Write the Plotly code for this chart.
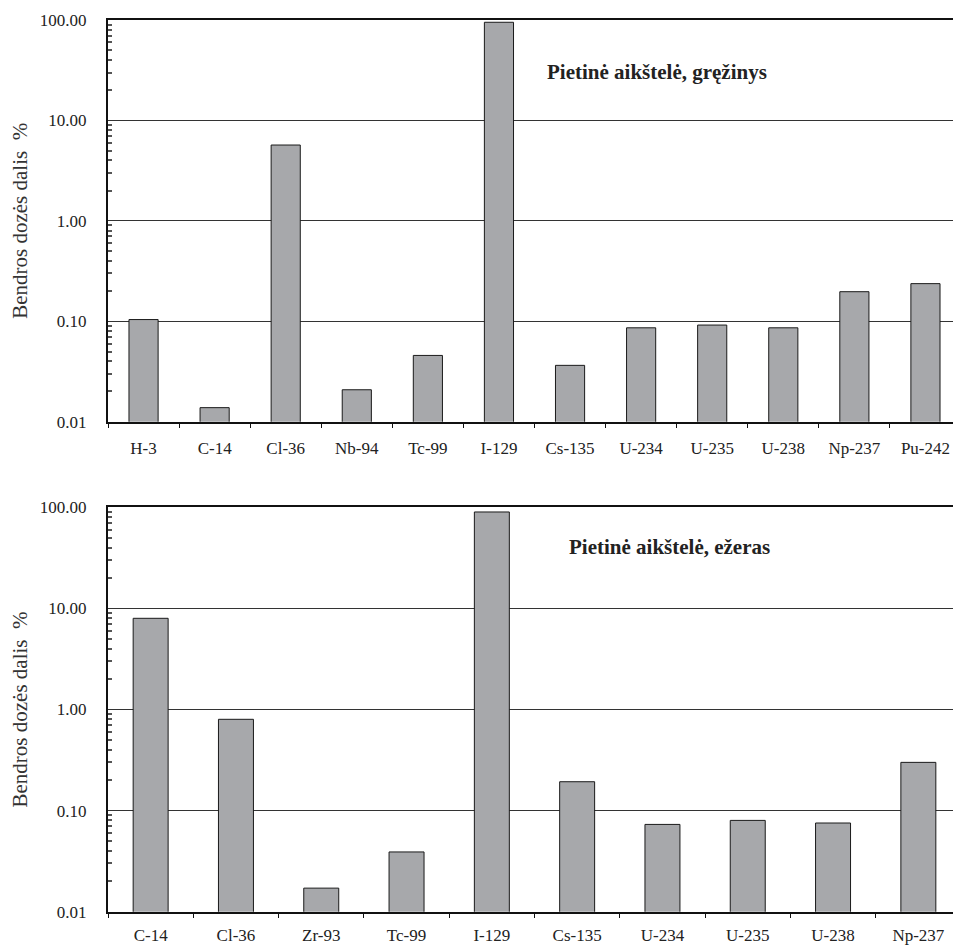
import plotly.graph_objects as go
from plotly.subplots import make_subplots

top_labels = ["H-3", "C-14", "Cl-36", "Nb-94", "Tc-99", "I-129", "Cs-135",
              "U-234", "U-235", "U-238", "Np-237", "Pu-242"]
top_values = [0.104, 0.0138, 5.69, 0.0208, 0.0457, 94.9, 0.0364,
              0.0861, 0.0917, 0.0861, 0.197, 0.237]

bot_labels = ["C-14", "Cl-36", "Zr-93", "Tc-99", "I-129", "Cs-135",
              "U-234", "U-235", "U-238", "Np-237"]
bot_values = [7.98, 0.80, 0.0171, 0.039, 89.9, 0.193, 0.073, 0.080, 0.0754, 0.30]

titles = ["Pietinė aikštelė, gręžinys", "Pietinė aikštelė, ežeras"]
y_title = "Bendros dozės dalis  %"

FONT = "Liberation Serif"
BAR_COLOR = "#a7a8ab"

# minor log ticks (2..9 within each decade)
minor_vals = [m * 10.0 ** e for e in range(-2, 2) for m in range(2, 10)]

fig = make_subplots(rows=2, cols=1)

fig.add_trace(go.Bar(x=top_labels, y=top_values, marker=dict(color=BAR_COLOR, line=dict(color="#1a1a1a", width=1)),
                     width=0.41, showlegend=False), row=1, col=1)
fig.add_trace(go.Bar(x=bot_labels, y=bot_values, marker=dict(color=BAR_COLOR, line=dict(color="#1a1a1a", width=1)),
                     width=0.41, showlegend=False), row=2, col=1)

OFF = 8  # page body margin
W, H = 961 - OFF, 945 - OFF
xdom = [(108 - OFF) / W, 1.0]
top_dom = [1 - (421.7 - OFF) / H, 1 - (20 - OFF) / H]
bot_dom = [1 - (911.7 - OFF) / H, 1 - (507.3 - OFF) / H]

for i, dom in zip([1, 2], [top_dom, bot_dom]):
    xa = "xaxis" if i == 1 else "xaxis2"
    ya = "yaxis" if i == 1 else "yaxis2"
    fig.layout[xa].update(domain=xdom, showline=True, linecolor="#111", linewidth=1.5,
                          mirror=True, ticks="outside", ticklen=5, tickcolor="#111",
                          tickson="boundaries", showgrid=False, automargin=False,
                          tickfont=dict(family=FONT, size=17, color="#222"),
                          ticklabelstandoff=10 if i == 1 else 7)
    fig.layout[ya].update(domain=dom, type="log", range=[-2, 2], dtick=1, tickformat=".2f",
                          showline=True, linecolor="#111", linewidth=2,
                          ticks="", showgrid=True, gridcolor="#333", gridwidth=1,
                          automargin=False, zeroline=False,
                          tickfont=dict(family=FONT, size=17, color="#222"),
                          ticklabelstandoff=16,
                          minor=dict(tickmode="array", tickvals=minor_vals, ticks="inside",
                                     ticklen=4, tickcolor="#555", tickwidth=1.5, showgrid=False),
                          title=dict(text=y_title, font=dict(family=FONT, size=21, color="#333"),
                                     standoff=10))

fig.add_annotation(text="<b>" + titles[0] + "</b>", x=(769 - OFF) / W, y=1 - (58 - OFF) / H,
                   xref="paper", yref="paper",
                   showarrow=False, font=dict(family=FONT, size=21, color="#222"))
fig.add_annotation(text="<b>" + titles[1] + "</b>", x=(772 - OFF) / W, y=1 - (547 - OFF) / H,
                   xref="paper", yref="paper",
                   showarrow=False, font=dict(family=FONT, size=21, color="#222"))

fig.update_layout(width=W, height=H, margin=dict(l=0, r=0, t=0, b=0),
                  plot_bgcolor="white", paper_bgcolor="white", bargap=0.59)

fig.write_html("out.html")
